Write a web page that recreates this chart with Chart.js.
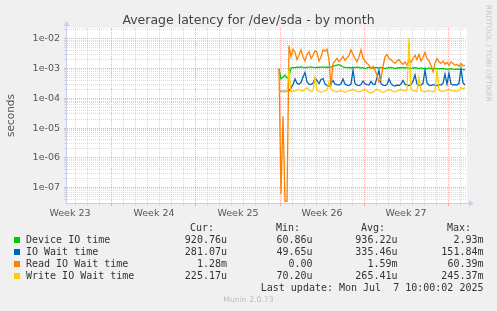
<!DOCTYPE html>
<html>
<head>
<meta charset="utf-8">
<script src="https://cdn.jsdelivr.net/npm/chart.js@4.4.1/dist/chart.umd.min.js"></script>
<style>
  html, body { margin: 0; padding: 0; background: #f0f0f0; }
  #wrap { position: relative; width: 497px; height: 311px; overflow: hidden; }
  #c { position: absolute; left: 0; top: 0; }
  .t { position: absolute; white-space: pre; font-family: 'DejaVu Sans Mono', monospace; font-size: 10px; line-height: 12px; color: #333; }
  .sw { position: absolute; left: 14px; width: 6px; height: 6px; }
  #title { position: absolute; left: 0; width: 497px; top: 13px; text-align: center; font-family: 'DejaVu Sans'; font-size: 12.5px; line-height: 14px; color: #444; }
  #footer { position: absolute; left: 0; width: 497px; top: 295px; text-align: center; font-family: 'DejaVu Sans'; font-size: 7.7px; line-height: 10px; color: #bbb; }
  #wm { position: absolute; left: 492px; top: 5px; transform: rotate(90deg); transform-origin: 0 0; white-space: pre; font-family: 'DejaVu Sans'; font-size: 7.5px; line-height: 8px; color: #c8c8c8; }
</style>
</head>
<body>
<div id="wrap">
  <canvas id="c" width="497" height="311"></canvas>
  <div id="title">Average latency for /dev/sda - by month</div>
  <div id="wm">RRDTOOL / TOBI OETIKER</div>

  <div class="t" style="right:283px; top:222px">Cur:</div>
  <div class="t" style="right:197px; top:222px">Min:</div>
  <div class="t" style="right:112px; top:222px">Avg:</div>
  <div class="t" style="right:26px; top:222px">Max:</div>

  <div class="sw" style="top:237px; background:#00cc00"></div>
  <div class="t" style="left:26px; top:234px">Device IO time</div>
  <div class="t" style="right:270px; top:234px">920.76u</div>
  <div class="t" style="right:184.5px; top:234px">60.86u</div>
  <div class="t" style="right:99.5px; top:234px">936.22u</div>
  <div class="t" style="right:13.5px; top:234px">2.93m</div>

  <div class="sw" style="top:249px; background:#0066b3"></div>
  <div class="t" style="left:26px; top:246px">IO Wait time</div>
  <div class="t" style="right:270px; top:246px">281.07u</div>
  <div class="t" style="right:184.5px; top:246px">49.65u</div>
  <div class="t" style="right:99.5px; top:246px">335.46u</div>
  <div class="t" style="right:13.5px; top:246px">151.84m</div>

  <div class="sw" style="top:261px; background:#ff8000"></div>
  <div class="t" style="left:26px; top:258px">Read IO Wait time</div>
  <div class="t" style="right:270px; top:258px">1.28m</div>
  <div class="t" style="right:184.5px; top:258px">0.00</div>
  <div class="t" style="right:99.5px; top:258px">1.59m</div>
  <div class="t" style="right:13.5px; top:258px">60.39m</div>

  <div class="sw" style="top:273px; background:#ffcc00"></div>
  <div class="t" style="left:26px; top:270px">Write IO Wait time</div>
  <div class="t" style="right:270px; top:270px">225.17u</div>
  <div class="t" style="right:184.5px; top:270px">70.20u</div>
  <div class="t" style="right:99.5px; top:270px">265.41u</div>
  <div class="t" style="right:13.5px; top:270px">245.37m</div>

  <div class="t" style="right:13.5px; top:282px">Last update: Mon Jul  7 10:00:02 2025</div>
  <div id="footer">Munin 2.0.73</div>
</div>
<script>
// x in days, counted from the Monday that starts week 24
const weekLabels = ['Week 23', 'Week 24', 'Week 25', 'Week 26', 'Week 27'];
const firstWeekStart = -7;
const xMin = -3.833, xMax = 29.583;
const yMin = 3.4e-8, yMax = 0.0233;

// one sample every 4 hours
const firstSampleDay = 13.917;
const sampleStepDays = 4 / 24;

// values in microseconds
const deviceIO = [
  1000, 450, 520, 600, 480, 560, 1050, 1100, 1080, 1120, 1100, 1150, 1100, 1080, 1100, 1120,
  1150, 1100, 1080, 1100, 1120, 1100, 1150, 1100, 1120, 1100, 1150, 1200, 1250, 1300, 1350, 1250,
  1150, 1100, 1080, 1100, 1050, 1100, 1080, 1120, 1100, 1050, 1080, 1000, 1050, 1100, 1080, 1050,
  1100, 1080, 1050, 1100, 1050, 1000, 1050, 1080, 1100, 1050, 1000, 1050, 1080, 1050, 1100, 1050,
  1080, 1050, 1000, 1050, 1080, 1050, 1000, 1050, 1020, 1000, 980, 1050, 1000, 980, 1020, 1000,
  980, 1000, 1020, 980, 950, 980, 1000, 960, 950, 980, 940, 950, 930, 920.76
];
const ioWait = [
  175, 170, 175, 170, 175, 180, 220, 290, 450, 320, 300, 340, 520, 740, 360, 300,
  290, 320, 470, 400, 310, 430, 460, 300, 270, 250, 310, 400, 300, 290, 280, 310,
  450, 300, 280, 270, 300, 880, 310, 280, 270, 290, 380, 310, 290, 280, 370, 300,
  290, 500, 880, 310, 280, 270, 290, 450, 310, 270, 260, 280, 270, 300, 400, 300,
  280, 270, 290, 370, 620, 300, 270, 280, 320, 900, 330, 280, 270, 290, 280, 270,
  290, 280, 320, 650, 300, 700, 300, 280, 290, 280, 320, 1000, 330, 281.07
];
const readIOWait = [
  1000, 0.06, 25, 0, 0, 6000, 2500, 4500, 3500, 2000, 2800, 4300, 2500, 1800, 3000, 3700,
  2200, 2800, 4000, 3500, 1800, 2500, 4300, 3800, 4500, 2000, 250, 1500, 1800, 2200, 1700, 2000,
  2600, 1900, 2300, 2800, 4300, 3000, 2200, 1700, 2500, 4300, 2300, 1800, 1500, 1300, 1000, 1200,
  900, 600, 350, 450, 1200, 2500, 3000, 2200, 2000, 1700, 1500, 1800, 2000, 1600, 1400, 1700,
  1300, 2000, 1600, 2200, 2800, 2000, 3000, 1800, 2400, 3500, 2200, 1800, 1300, 800, 1500, 2200,
  1700, 1500, 1800, 1400, 1600, 1300, 1700, 1500, 1300, 1400, 1200, 1500, 1250, 1280
];
const writeIOWait = [
  170, 165, 170, 165, 170, 900, 170, 180, 175, 190, 200, 185, 175, 200, 230, 190,
  170, 180, 500, 190, 170, 160, 170, 180, 190, 350, 200, 180, 170, 165, 175, 180,
  170, 160, 170, 180, 190, 200, 185, 170, 165, 175, 190, 200, 180, 160, 150, 165,
  180, 200, 190, 170, 160, 170, 180, 200, 190, 170, 165, 175, 190, 200, 185, 175,
  190, 11000, 200, 180, 175, 170, 500, 180, 170, 165, 175, 180, 170, 165, 180, 900,
  190, 175, 170, 180, 190, 200, 185, 175, 180, 170, 190, 230, 210, 225.17
];

const seriesNames = ['Device IO time', 'IO Wait time', 'Read IO Wait time', 'Write IO Wait time'];
const seriesColors = ['#00cc00', '#0066b3', '#ff8000', '#ffcc00'];
const seriesValues = [deviceIO, ioWait, readIOWait, writeIOWait];

const times = deviceIO.map((_, i) => firstSampleDay + i * sampleStepDays);

const gridMinor = 'rgba(190,190,190,0.55)';
const gridMajor = 'rgba(235,120,120,0.6)';
const axisColor = '#c6cdf5';

const isDecade = v => Math.abs(Math.log10(v) - Math.round(Math.log10(v))) < 1e-6;
const fmtExp = v => '1e-' + String(-Math.round(Math.log10(v))).padStart(2, '0');
// zero cannot sit on a log axis, rrdtool draws it on the floor
const toSeconds = v => v === 0 ? yMin : v * 1e-6;

const plotBg = {
  id: 'plotBg',
  beforeDraw(chart) {
    const a = chart.chartArea, ctx = chart.ctx;
    ctx.save();
    ctx.fillStyle = '#ffffff';
    ctx.fillRect(a.left, a.top, a.right - a.left, a.bottom - a.top);
    ctx.restore();
  },
  afterDraw(chart) {
    const a = chart.chartArea, ctx = chart.ctx;
    ctx.save();
    ctx.strokeStyle = axisColor;
    ctx.fillStyle = axisColor;
    ctx.lineWidth = 1;
    ctx.beginPath();
    ctx.moveTo(a.left + 0.5, a.top); ctx.lineTo(a.left + 0.5, a.top - 5);
    ctx.moveTo(a.right, a.bottom + 0.5); ctx.lineTo(a.right + 5, a.bottom + 0.5);
    ctx.stroke();
    ctx.beginPath();
    ctx.moveTo(a.left + 0.5, a.top - 7); ctx.lineTo(a.left - 2.5, a.top - 2); ctx.lineTo(a.left + 3.5, a.top - 2);
    ctx.closePath(); ctx.fill();
    ctx.beginPath();
    ctx.moveTo(a.right + 7, a.bottom + 0.5); ctx.lineTo(a.right + 2, a.bottom - 2.5); ctx.lineTo(a.right + 2, a.bottom + 3.5);
    ctx.closePath(); ctx.fill();
    ctx.restore();
  }
};

new Chart(document.getElementById('c'), {
  type: 'line',
  data: {
    datasets: seriesNames.map((name, s) => ({
      label: name,
      data: times.map((t, i) => ({ x: t, y: toSeconds(seriesValues[s][i]) })),
      borderColor: seriesColors[s],
      borderWidth: 1.3,
      pointRadius: 0,
      tension: 0,
      fill: false,
      order: seriesNames.length - s
    }))
  },
  options: {
    responsive: false,
    animation: false,
    devicePixelRatio: 1,
    layout: { padding: { left: 0, right: 30, top: 28, bottom: 88 } },
    plugins: { legend: { display: false }, tooltip: { enabled: false } },
    scales: {
      x: {
        type: 'linear', min: xMin, max: xMax,
        afterFit: s => { s.height = 20; },
        afterBuildTicks: s => {
          const t = [];
          for (let d = Math.ceil(xMin); d <= xMax; d++) t.push({ value: d });
          weekLabels.forEach((_, w) => t.push({ value: firstWeekStart + w * 7 + 3.5 }));
          t.sort((a, b) => a.value - b.value);
          s.ticks = t;
        },
        grid: {
          color: c => {
            const v = c.tick ? c.tick.value : 0;
            if (!Number.isInteger(v)) return 'rgba(0,0,0,0)';
            return v % 7 === 0 ? gridMajor : gridMinor;
          },
          tickLength: 3
        },
        border: { display: true, color: axisColor, dash: [1, 1] },
        ticks: {
          autoSkip: false, maxRotation: 0, padding: 2,
          color: '#555', font: { family: 'DejaVu Sans', size: 9.5 },
          callback: v => Number.isInteger(v) ? '' : weekLabels[Math.round((v - 3.5 - firstWeekStart) / 7)]
        }
      },
      y: {
        type: 'logarithmic', min: yMin, max: yMax,
        afterFit: s => { s.width = 66; },
        afterBuildTicks: s => {
          const t = [];
          for (let e = -8; e <= -2; e++) {
            for (let k = 1; k <= 9; k++) {
              const v = k * Math.pow(10, e);
              if (v >= yMin && v <= yMax) t.push({ value: v });
            }
          }
          s.ticks = t;
        },
        grid: {
          color: c => (c.tick && isDecade(c.tick.value)) ? gridMajor : gridMinor,
          tickLength: 2
        },
        border: { display: true, color: axisColor, dash: [1, 1] },
        ticks: {
          autoSkip: false, padding: 4,
          color: '#555', font: { family: 'DejaVu Sans', size: 9.5 },
          callback: v => isDecade(v) ? fmtExp(v) : ''
        },
        title: {
          display: true, text: 'seconds', color: '#555',
          font: { family: 'DejaVu Sans', size: 10.5 },
          padding: { top: 5, bottom: 0 }
        }
      }
    }
  },
  plugins: [plotBg]
});
</script>
</body>
</html>
